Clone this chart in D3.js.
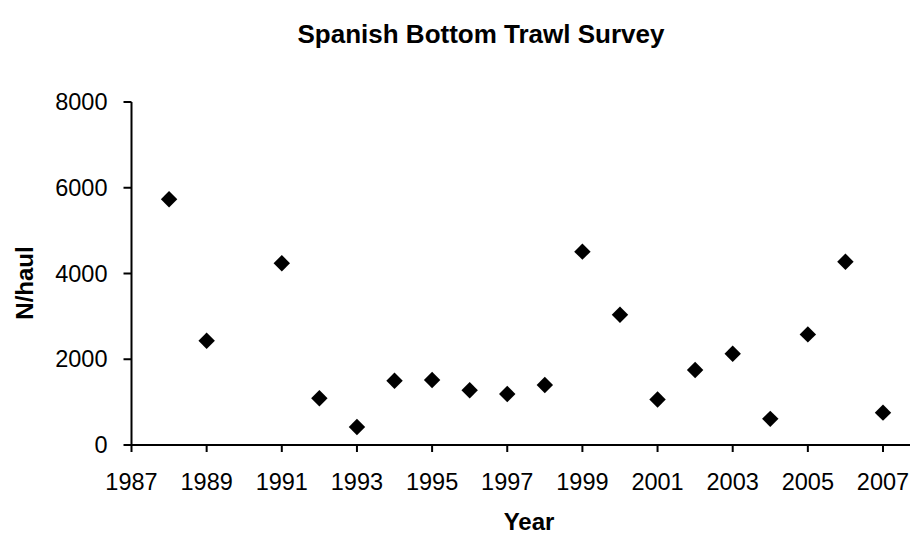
<!DOCTYPE html>
<html>
<head>
<meta charset="utf-8">
<script src="https://cdn.jsdelivr.net/npm/d3@7"></script>
<style>
  html, body { margin: 0; padding: 0; background: #fff; }
  svg { display: block; }
  text { font-family: "Liberation Sans", Arial, sans-serif; fill: #000; }
</style>
</head>
<body>
<svg id="chart" width="910" height="535"></svg>
<script>
// Spanish bottom trawl survey: abundance index (N/haul) by year
const years = [1988, 1989, 1991, 1992, 1993, 1994, 1995, 1996, 1997, 1998,
               1999, 2000, 2001, 2002, 2003, 2004, 2005, 2006, 2007];
const nPerHaul = [5730, 2430, 4240, 1090, 420, 1500, 1515, 1275, 1190, 1400,
                  4510, 3040, 1060, 1750, 2130, 610, 2580, 4275, 755];
const xTicks = [1987, 1989, 1991, 1993, 1995, 1997, 1999, 2001, 2003, 2005, 2007];
const yTicks = [0, 2000, 4000, 6000, 8000];

const svg = d3.select("#chart");
const W = 910;

const x = d3.scaleLinear().domain([1987, 2007]).range([131.5, 883]);
const y = d3.scaleLinear().domain([0, 8000]).range([445, 102]);

// x axis: the baseline runs on to the right edge
const xAxis = svg.append("g").attr("transform", `translate(0,${y(0)})`);
xAxis.append("line")
  .attr("x1", x(1987)).attr("x2", W)
  .attr("stroke", "#000").attr("stroke-width", 2);
xAxis.selectAll(".tick").data(xTicks).join("line")
  .attr("x1", d => x(d)).attr("x2", d => x(d))
  .attr("y1", 0).attr("y2", 7)
  .attr("stroke", "#000").attr("stroke-width", 2);
xAxis.selectAll(".lbl").data(xTicks).join("text")
  .attr("x", d => x(d)).attr("y", 45)
  .attr("text-anchor", "middle")
  .style("font-size", "23.5px")
  .text(d => d);

// y axis
const yAxis = svg.append("g").attr("transform", `translate(${x(1987)},0)`);
yAxis.append("line")
  .attr("y1", y(0)).attr("y2", y(8000))
  .attr("stroke", "#000").attr("stroke-width", 2);
yAxis.selectAll(".tick").data(yTicks).join("line")
  .attr("x1", -8).attr("x2", 0)
  .attr("y1", d => y(d)).attr("y2", d => y(d))
  .attr("stroke", "#000").attr("stroke-width", 2);
yAxis.selectAll(".lbl").data(yTicks).join("text")
  .attr("x", -24).attr("y", d => y(d))
  .attr("dy", "0.35em")
  .attr("text-anchor", "end")
  .style("font-size", "23.5px")
  .text(d => d);

// diamond markers
const diamond = d3.symbol().type(d3.symbolSquare).size(135);
svg.append("g").selectAll("path")
  .data(years.map((yr, i) => ({ yr, v: nPerHaul[i] })))
  .join("path")
  .attr("d", diamond)
  .attr("transform", d => `translate(${x(d.yr)},${y(d.v)}) rotate(45)`)
  .attr("fill", "#000");

// titles
svg.append("text")
  .attr("x", 481).attr("y", 43)
  .attr("text-anchor", "middle")
  .style("font-size", "26px").style("font-weight", "bold")
  .text("Spanish Bottom Trawl Survey");

svg.append("text")
  .attr("x", 529).attr("y", 530)
  .attr("text-anchor", "middle")
  .style("font-size", "24px").style("font-weight", "bold")
  .text("Year");

svg.append("text")
  .attr("transform", "translate(33,283) rotate(-90)")
  .attr("text-anchor", "middle")
  .style("font-size", "24px").style("font-weight", "bold")
  .text("N/haul");
</script>
</body>
</html>
